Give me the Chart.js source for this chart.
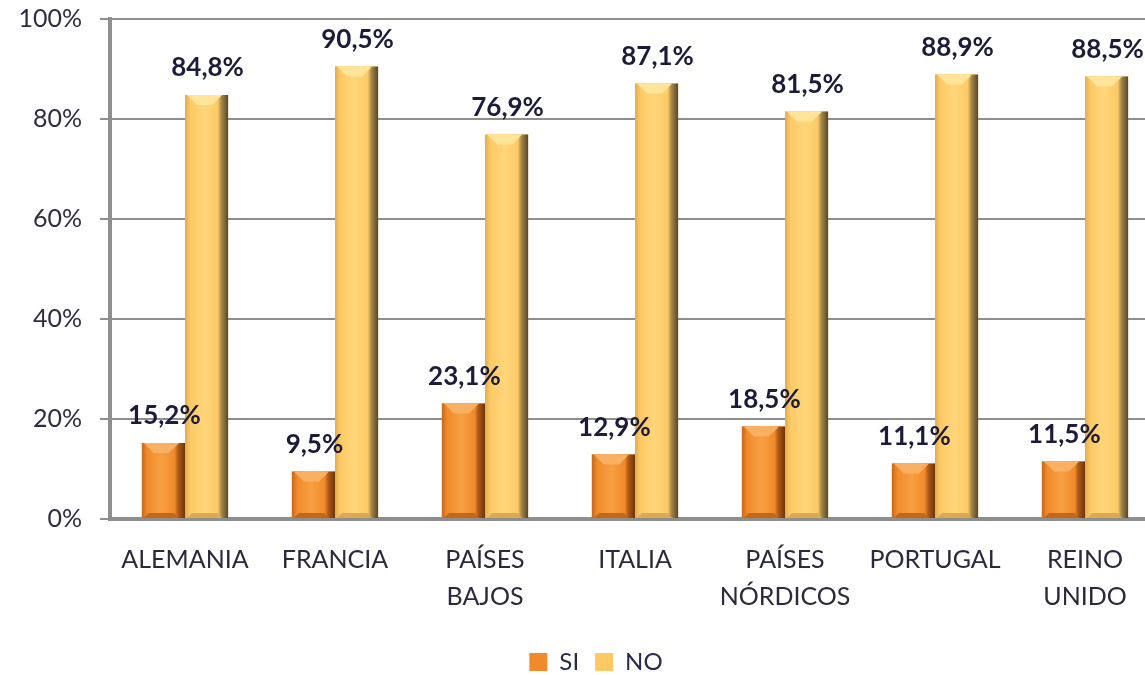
<!DOCTYPE html>
<html>
<head>
<meta charset="utf-8">
<script src="https://cdn.jsdelivr.net/npm/chart.js@4.4.0/dist/chart.umd.min.js"></script>
<style>
html, body { margin: 0; padding: 0; background: #fff; overflow: hidden; }
#wrap { position: relative; width: 1192px; height: 675px; }
</style>
</head>
<body>
<div id="wrap"><canvas id="c"></canvas></div>
<script>
// datos del gráfico
const paises = ['ALEMANIA', 'FRANCIA', ['PAÍSES', 'BAJOS'], 'ITALIA', ['PAÍSES', 'NÓRDICOS'], 'PORTUGAL', ['REINO', 'UNIDO']];
const valoresSi = [15.2, 9.5, 23.1, 12.9, 18.5, 11.1, 11.5];
const valoresNo = [84.8, 90.5, 76.9, 87.1, 81.5, 88.9, 88.5];
const marcasEje = [0, 20, 40, 60, 80, 100];

const FONT = 'Lato, "Open Sans", sans-serif';
const paletaSi = { body: '#f08a2a', light: '#f7a043', edge: '#c8661a', shade: '#b05a18', dark: '#6e3508', top: '#f9b062', bottom: '#c46818' };
const paletaNo = { body: '#fdc965', light: '#ffd67a', edge: '#e0ac4e', shade: '#a88a4a', dark: '#57462a', top: '#ffe49a', bottom: '#d8aa52' };

const fmt = v => v.toFixed(1).replace('.', ',') + '%';

// efecto de bisel sobre cada barra, y luego las etiquetas encima de todo
const bevel = {
    id: 'bevel',
    afterDatasetsDraw(chart) {
        const ctx = chart.ctx;
        const etiquetas = [];
        chart.data.datasets.forEach((ds, di) => {
            const pal = di === 0 ? paletaSi : paletaNo;
            chart.getDatasetMeta(di).data.forEach((bar, i) => {
                const p = bar.getProps(['x', 'y', 'base', 'width'], true);
                const l = p.x - p.width / 2, r = p.x + p.width / 2, h = p.base - p.y;
                ctx.save();
                const g = ctx.createLinearGradient(l, 0, r, 0);
                g.addColorStop(0, pal.edge);
                g.addColorStop(0.12, pal.body);
                g.addColorStop(0.45, pal.light);
                g.addColorStop(0.76, pal.body);
                g.addColorStop(0.84, pal.shade);
                g.addColorStop(1, pal.dark);
                ctx.fillStyle = g;
                ctx.fillRect(l, p.y, p.width, h);
                const b = Math.min(10, h / 2);
                ctx.fillStyle = pal.top;
                ctx.beginPath();
                ctx.moveTo(l + 2, p.y);
                ctx.lineTo(r - 6, p.y);
                ctx.lineTo(r - 6 - b, p.y + b);
                ctx.lineTo(l + 2 + b, p.y + b);
                ctx.closePath();
                ctx.fill();
                ctx.fillStyle = pal.bottom;
                ctx.beginPath();
                ctx.moveTo(l + 2, p.base);
                ctx.lineTo(r - 6, p.base);
                ctx.lineTo(r - 6 - b / 2, p.base - b / 2);
                ctx.lineTo(l + 2 + b / 2, p.base - b / 2);
                ctx.closePath();
                ctx.fill();
                ctx.restore();
                etiquetas.push([fmt(ds.data[i]), p.x + 1, p.y - 27]);
            });
        });
        ctx.save();
        ctx.font = 'bold 26px ' + FONT;
        ctx.fillStyle = '#1c1c3a';
        ctx.textAlign = 'center';
        ctx.textBaseline = 'middle';
        etiquetas.forEach(e => ctx.fillText(e[0], e[1], e[2]));
        ctx.restore();
    }
};

new Chart(document.getElementById('c'), {
    type: 'bar',
    data: {
        labels: paises,
        datasets: [
            { label: 'SI', data: valoresSi, backgroundColor: paletaSi.body, borderWidth: 0 },
            { label: 'NO', data: valoresNo, backgroundColor: paletaNo.body, borderWidth: 0 }
        ]
    },
    options: {
        responsive: true,
        maintainAspectRatio: false,
        animation: false,
        layout: { padding: { left: 0, right: 0, top: 19, bottom: 0 } },
        datasets: { bar: { categoryPercentage: 0.575, barPercentage: 1 } },
        scales: {
            y: {
                min: 0, max: 100,
                afterFit: s => { s.width = 110; s.paddingTop = 0; },
                afterBuildTicks: s => { s.ticks = marcasEje.map(v => ({ value: v })); },
                ticks: { callback: v => v + '%', color: '#2e2e40', padding: 18, font: { family: FONT, size: 25, lineHeight: 1 } },
                grid: { color: '#8e8e8e', lineWidth: 2, tickLength: 10 },
                border: { color: '#8e8e8e', width: 4 }
            },
            // eje vacío a la derecha, solo para centrar la leyenda como en el original
            margen: {
                position: 'right',
                afterFit: s => { s.width = 32; },
                ticks: { display: false },
                grid: { display: false },
                border: { display: false }
            },
            x: {
                afterFit: s => { s.height = 115; },
                ticks: { color: '#2a2a3c', padding: 14, maxRotation: 0, autoSkip: false, font: { family: FONT, size: 25, lineHeight: 1.48 } },
                grid: { display: false },
                border: { color: '#8e8e8e', width: 4 }
            }
        },
        plugins: {
            tooltip: { enabled: false },
            legend: {
                position: 'bottom',
                maxHeight: 41,
                labels: {
                    padding: 16, boxWidth: 18, boxHeight: 18, color: '#2a2a4c',
                    font: { family: FONT, size: 24 },
                    generateLabels: chart => chart.data.datasets.map((ds, i) => ({
                        text: ds.label, fillStyle: i === 0 ? paletaSi.body : paletaNo.body,
                        strokeStyle: i === 0 ? paletaSi.dark : paletaNo.dark, lineWidth: 0,
                        datasetIndex: i, fontColor: '#2a2a4c'
                    }))
                }
            }
        }
    },
    plugins: [bevel]
});
</script>
</body>
</html>
